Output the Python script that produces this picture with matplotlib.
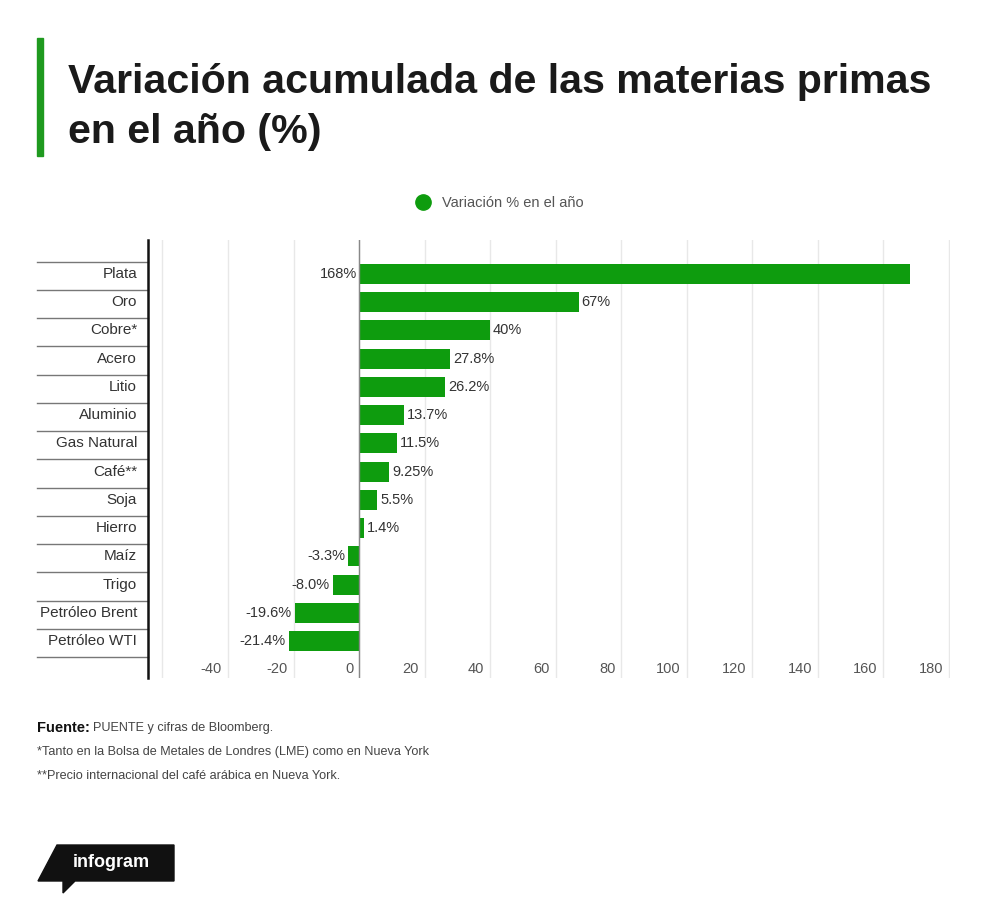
import matplotlib.pyplot as plt
from matplotlib.lines import Line2D
from matplotlib.patches import Polygon, Rectangle
import matplotlib.transforms as mtransforms

plt.rcParams['font.family'] = ['Liberation Sans', 'DejaVu Sans']

categorias = ["Plata", "Oro", "Cobre*", "Acero", "Litio", "Aluminio", "Gas Natural",
              "Café**", "Soja", "Hierro", "Maíz", "Trigo", "Petróleo Brent", "Petróleo WTI"]
valores = [168, 67, 40, 27.8, 26.2, 13.7, 11.5, 9.25, 5.5, 1.4, -3.3, -8.0, -19.6, -21.4]
etiquetas = ["168%", "67%", "40%", "27.8%", "26.2%", "13.7%", "11.5%", "9.25%", "5.5%",
             "1.4%", "-3.3%", "-8.0%", "-19.6%", "-21.4%"]
ticks_x = [-40, -20, 0, 20, 40, 60, 80, 100, 120, 140, 160, 180]
grid_x = [-60] + ticks_x

verde = '#0e9c0e'
W, H = 1000, 913

fig = plt.figure(figsize=(W / 100, H / 100), dpi=100)

# axes placed in pixel terms of the reference
ax = fig.add_axes([148 / W, 1 - 678 / H, 802 / W, 438 / H])
ax.set_xlim(-64.4, 180.3)
ax.set_ylim(14.31, -1.2)

for g in grid_x:
    ax.axvline(g, color='#e8e8e8', lw=1, zorder=0)
ax.axvline(0, color='#888888', lw=1, zorder=3)

y = list(range(len(categorias)))
ax.barh(y, valores, height=0.71, color=verde, zorder=2)

xmax = ax.get_xlim()[1]
for yi, v, lab in zip(y, valores, etiquetas):
    if v >= 0 and v + 14 < xmax:
        ax.text(v + 0.9, yi, lab, ha='left', va='center', fontsize=10.5, color='#333333')
    elif v >= 0:
        ax.text(-0.6, yi, lab, ha='right', va='center', fontsize=10.5, color='#333333')
    else:
        ax.text(v - 0.9, yi, lab, ha='right', va='center', fontsize=10.5, color='#333333')

# tick labels sit inside the plot, just left of each grid line
tr = mtransforms.blended_transform_factory(ax.transData, ax.transAxes)
for t in ticks_x:
    ax.text(t - 1.8, 0.02, str(t), transform=tr, ha='right', va='center',
            fontsize=10.5, color='#555555')

ax.set_xticks([])
ax.set_yticks([])
for s in ['top', 'right', 'bottom']:
    ax.spines[s].set_visible(False)
ax.spines['left'].set_linewidth(1.8)
ax.spines['left'].set_color('#111111')

# category labels with separators
trl = mtransforms.blended_transform_factory(ax.transAxes, ax.transData)
for yi, c in zip(y, categorias):
    ax.text(-0.0137, yi, c, transform=trl, ha='right', va='center',
            fontsize=11, color='#333333')
for k in range(len(categorias) + 1):
    ax.plot([-0.1385, 0], [k - 0.43, k - 0.43], transform=trl, color='#777777',
            lw=1, clip_on=False)

# legend
h = Line2D([], [], marker='o', linestyle='none', markersize=11, color=verde)
fig.legend([h], ["Variación % en el año"], loc='center', bbox_to_anchor=(496 / W, 1 - 203 / H),
           frameon=False, fontsize=10.5, labelcolor='#555555', handletextpad=0.3)

# title
fig.add_artist(Rectangle((37 / W, 1 - 156 / H), 6 / W, 118 / H, color='#1f9a1f',
                         transform=fig.transFigure))
fig.text(68 / W, 1 - 93 / H, "Variación acumulada de las materias primas", fontsize=29.6,
         fontweight='bold', color='#1a1a1a', va='baseline')
fig.text(68 / W, 1 - 143 / H, "en el año (%)", fontsize=29.6,
         fontweight='bold', color='#1a1a1a', va='baseline')

# footer
fuente = fig.text(37 / W, 1 - 728 / H, "Fuente:", fontsize=10.5, fontweight='bold',
                  color='#111111', va='center')
fig.canvas.draw()
bb = fuente.get_window_extent()
fig.text((bb.x1 + 3) / W, 1 - 728 / H, "PUENTE y cifras de Bloomberg.", fontsize=9.1,
         color='#444444', va='center')
fig.text(37 / W, 1 - 752 / H, "*Tanto en la Bolsa de Metales de Londres (LME) como en Nueva York",
         fontsize=9.1, color='#444444', va='center')
fig.text(37 / W, 1 - 776 / H, "**Precio internacional del café arábica en Nueva York.",
         fontsize=9.1, color='#444444', va='center')

logo = [(38, 881), (57, 845), (174, 845), (174, 881), (75, 881), (63, 893), (63, 881)]
fig.add_artist(Polygon([(px / W, 1 - py / H) for px, py in logo], closed=True,
                       color='#111111', transform=fig.transFigure))
fig.text(73 / W, 1 - 862 / H, "infogram", fontsize=13, fontweight='bold', color='white',
         va='center')

fig.savefig('out.png', dpi=100, facecolor='white')
